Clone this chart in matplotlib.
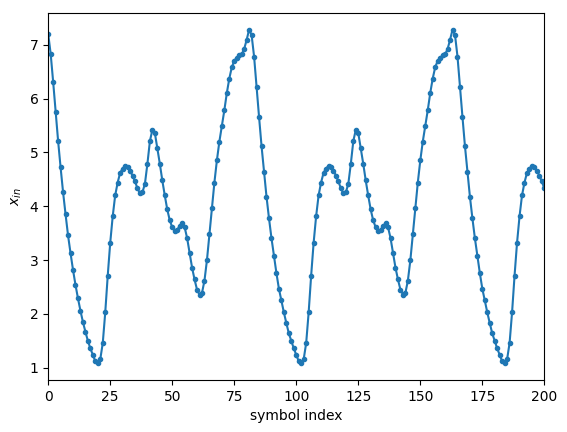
import matplotlib
matplotlib.use("Agg")
import matplotlib.pyplot as plt
import numpy as np

x_in = [7.2,6.83,6.31,5.75,5.21,4.72,4.26,3.85,3.46,3.13,2.82,2.54,2.29,2.06,1.85,1.67,1.5,1.36,1.24,1.12,
        1.08,1.16,1.46,2.03,2.71,3.32,3.81,4.2,4.44,4.62,4.7,4.75,4.73,4.66,4.57,4.46,4.33,4.24,4.26,4.42,
        4.79,5.21,5.42,5.36,5.08,4.79,4.48,4.2,3.94,3.74,3.61,3.54,3.56,3.64,3.68,3.61,3.41,3.13,2.86,2.64,
        2.45,2.36,2.39,2.62,3.0,3.48,3.96,4.44,4.85,5.2,5.49,5.78,6.1,6.37,6.58,6.7,6.76,6.8,6.82,6.92,
        7.09,7.28,7.18,6.78,6.21,5.66,5.12,4.64,4.18,3.78,3.41,3.08,2.76,2.47,2.25,2.03,1.83,1.64,1.5,1.36,
        1.24,1.12,1.08,1.16,1.46,2.03,2.71,3.32,3.81,4.2,4.44,4.62,4.7,4.75,4.73,4.66,4.57,4.46,4.33,4.24,
        4.26,4.42,4.79,5.21,5.42,5.36,5.08,4.79,4.48,4.2,3.94,3.74,3.61,3.54,3.56,3.64,3.68,3.61,3.41,3.13,
        2.86,2.64,2.45,2.36,2.39,2.62,3.0,3.48,3.96,4.44,4.85,5.2,5.49,5.78,6.1,6.37,6.58,6.7,6.76,6.8,
        6.82,6.92,7.09,7.28,7.18,6.78,6.21,5.66,5.12,4.64,4.18,3.78,3.41,3.08,2.76,2.47,2.25,2.03,1.83,1.64,
        1.5,1.36,1.24,1.12,1.08,1.16,1.46,2.03,2.71,3.32,3.81,4.2,4.44,4.62,4.7,4.75,4.73,4.66,4.57,4.46,
        4.33]
idx = np.arange(len(x_in))

fig, ax = plt.subplots(figsize=(5.67, 4.32), dpi=100)
ax.plot(idx, x_in, '.-', color='#1f77b4', markersize=6)
ax.set_xlim(0, 200)
ax.set_xlabel('symbol index')
ax.set_ylabel('$x_{in}$')
fig.subplots_adjust(left=0.085, right=0.96, top=0.97, bottom=0.12)
fig.savefig('out.png')
